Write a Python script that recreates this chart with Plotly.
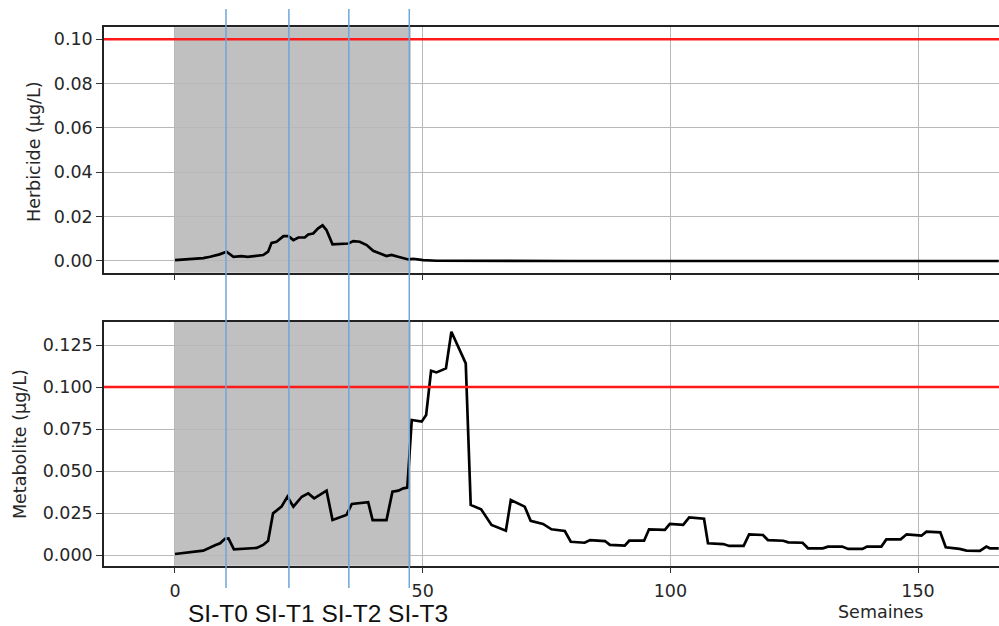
import plotly.graph_objects as go

# ---------------- data ----------------
herb_weeks = [0, 5.7, 7.1, 9.0, 10.4, 11.8, 13.4, 14.7, 17.8, 18.8, 19.5, 20.5, 21.9, 22.9, 23.9,
              24.9, 26.2, 26.9, 27.9, 28.9, 29.8, 30.6, 31.8, 33.6, 35.0, 36.0, 37.3, 38.7, 40.0,
              41.4, 42.7, 43.7, 45.4, 47.1, 48.1, 50.1, 52.8, 56, 60, 80, 100, 120, 140, 166.3]
herb_vals = [0.0004, 0.0013, 0.0019, 0.0030, 0.0042, 0.0019, 0.0022, 0.0019, 0.0027, 0.0042, 0.0082,
             0.0087, 0.0112, 0.0112, 0.0094, 0.0106, 0.0106, 0.0120, 0.0124, 0.0147, 0.0161, 0.0139,
             0.0075, 0.0079, 0.0079, 0.0090, 0.0087, 0.0072, 0.0046, 0.0034, 0.0022, 0.0027, 0.0016,
             0.0007, 0.0010, 0.0004, 0.0001, 0.00005, 0.0, 0.0, 0.0, 0.0, 0.0, 0.0]

met_weeks = [0, 5.7, 8.1, 9.1, 10.1, 10.8, 11.9, 13.8, 16.5, 17.8, 18.8, 19.8, 21.5, 22.7, 23.9,
             25.6, 26.9, 28.1, 30.6, 31.8, 33.3, 34.6, 35.7, 37.2, 39.0, 39.9, 42.7, 43.9, 45.1,
             46.1, 46.9, 47.8, 49.8, 50.7, 51.7, 52.8, 54.7, 55.8, 58.7, 59.7, 61.8, 63.9, 66.8,
             67.8, 70.6, 71.8, 74.3, 76.0, 78.7, 79.9, 82.7, 83.8, 86.8, 87.8, 90.8, 91.7, 94.7,
             95.7, 98.9, 99.9, 102.6, 103.8, 106.8, 107.6, 110.7, 111.9, 114.8, 115.9, 118.7,
             119.7, 122.8, 123.8, 126.7, 127.8, 130.8, 131.8, 134.7, 135.9, 138.8, 139.7, 142.6,
             143.6, 146.5, 147.7, 150.7, 151.7, 154.5, 155.6, 158.4, 159.8, 162.5, 163.8, 164.5, 166.3]
met_vals = [0.0006, 0.0026, 0.0058, 0.0070, 0.0097, 0.0099, 0.0034, 0.0036, 0.0042, 0.0060, 0.0085,
            0.0248, 0.0288, 0.0347, 0.0288, 0.0347, 0.0367, 0.0337, 0.0383, 0.0208, 0.0224, 0.0238,
            0.0304, 0.0308, 0.0314, 0.0208, 0.0208, 0.0377, 0.0383, 0.0397, 0.0401, 0.0804, 0.0794,
            0.0833, 0.1097, 0.1087, 0.1111, 0.1329, 0.1141, 0.0298, 0.0272, 0.0179, 0.0145, 0.0327,
            0.0288, 0.0204, 0.0185, 0.0153, 0.0143, 0.0079, 0.0073, 0.0089, 0.0083, 0.0060, 0.0056,
            0.0085, 0.0085, 0.0153, 0.0149, 0.0185, 0.0179, 0.0224, 0.0216, 0.0070, 0.0065, 0.0054,
            0.0054, 0.0123, 0.0119, 0.0089, 0.0085, 0.0075, 0.0073, 0.0040, 0.0040, 0.0050, 0.0050,
            0.0036, 0.0036, 0.0050, 0.0050, 0.0093, 0.0093, 0.0123, 0.0115, 0.0139, 0.0135, 0.0046,
            0.0036, 0.0026, 0.0024, 0.0050, 0.0040, 0.0040]

threshold = 0.10
shade_start = 0
shade_end = 47.6
si_weeks = [10.3, 23.0, 35.1, 47.3]
si_label = "SI-T0 SI-T1 SI-T2 SI-T3"
x_ticks = [0, 50, 100, 150]
herb_ticks = [0.00, 0.02, 0.04, 0.06, 0.08, 0.10]
met_ticks = [0.000, 0.025, 0.050, 0.075, 0.100, 0.125]

# ---------------- figure ----------------
W, H = 999, 626
FONT = "DejaVu Sans"
TXT = "#262626"
GRID = "#b8b8b8"
TICKSZ = 17.5

fig = go.Figure()
fig.add_trace(go.Scatter(x=herb_weeks, y=herb_vals, mode="lines",
                         line=dict(color="black", width=2.7), xaxis="x", yaxis="y",
                         showlegend=False, hoverinfo="skip"))
fig.add_trace(go.Scatter(x=met_weeks, y=met_vals, mode="lines",
                         line=dict(color="black", width=2.7), xaxis="x2", yaxis="y2",
                         showlegend=False, hoverinfo="skip"))

xrange_ = [-14.33, 166.35]
xdom = [104 / W, 1.0]
top_dom = [1 - 272.7 / H, 1 - 27.3 / H]
bot_dom = [1 - 565.7 / H, 1 - 321.7 / H]

common_x = dict(range=xrange_, domain=xdom, tickvals=x_ticks, showgrid=True, gridcolor=GRID,
                gridwidth=1, ticks="outside", ticklen=6, tickwidth=1, tickcolor="#333",
                showline=True, linecolor="#222", linewidth=1.5, mirror=True, zeroline=False,
                automargin=False, ticklabelstandoff=3,
                tickfont=dict(family=FONT, size=TICKSZ, color=TXT))
common_y = dict(showgrid=True, gridcolor=GRID, gridwidth=1, ticks="outside", ticklen=6,
                tickwidth=1, tickcolor="#333", showline=True, linecolor="#222", linewidth=1.5,
                mirror=False, zeroline=False, automargin=False,
                tickfont=dict(family=FONT, size=TICKSZ, color=TXT))

fig.update_layout(
    width=W, height=H, margin=dict(l=0, r=0, t=0, b=0, autoexpand=False),
    paper_bgcolor="white", plot_bgcolor="white", showlegend=False,
    xaxis=dict(anchor="y", showticklabels=False, **common_x),
    xaxis2=dict(anchor="y2", matches="x", **common_x),
    yaxis=dict(anchor="x", domain=top_dom, range=[-0.00528, 0.1054], tickvals=herb_ticks,
               tickformat=".2f", **common_y),
    yaxis2=dict(anchor="x2", domain=bot_dom, range=[-0.00637, 0.1389], tickvals=met_ticks,
                tickformat=".3f", **common_y),
)

shapes = []
for xr, yr in (("x", "y"), ("x2", "y2")):
    shapes.append(dict(type="rect", xref=xr, yref=yr + " domain", x0=shade_start, x1=shade_end,
                       y0=0, y1=1, fillcolor="#c0c0c0", line=dict(width=0), layer="below"))
    shapes.append(dict(type="line", xref=xr + " domain", yref=yr, x0=0, x1=1, y0=threshold,
                       y1=threshold, line=dict(color="#ff1a1a", width=2.6), layer="above"))
for w in si_weeks:
    shapes.append(dict(type="line", xref="x", yref="paper", x0=w, x1=w, y0=1 - 588 / H,
                       y1=1 - 9 / H, line=dict(color="#6fa6d8", width=1.5), layer="above"))
fig.update_layout(shapes=shapes)

fig.add_annotation(text="Herbicide (µg/L)", xref="paper", yref="paper", x=34 / W, y=1 - 152 / H,
                   textangle=-90, showarrow=False, xanchor="center", yanchor="middle",
                   font=dict(family=FONT, size=17.5, color=TXT))
fig.add_annotation(text="Metabolite (µg/L)", xref="paper", yref="paper", x=20 / W, y=1 - 444 / H,
                   textangle=-90, showarrow=False, xanchor="center", yanchor="middle",
                   font=dict(family=FONT, size=17.5, color=TXT))
fig.add_annotation(text="Semaines", xref="paper", yref="paper", x=880 / W, y=1 - 612 / H,
                   showarrow=False, xanchor="center", yanchor="middle",
                   font=dict(family=FONT, size=17.5, color=TXT))
fig.add_annotation(text=si_label, xref="paper", yref="paper", x=318 / W, y=1 - 613.5 / H,
                   showarrow=False, xanchor="center", yanchor="middle", borderpad=0,
                   font=dict(family="Liberation Sans", size=24.5, color="#111"))

fig.write_html("out.html", config={"displayModeBar": False},
               post_script="document.body.style.margin='0';document.body.style.overflow='hidden';")
